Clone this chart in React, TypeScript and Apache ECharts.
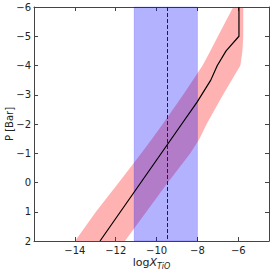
import React, { useEffect, useRef } from "react";
import * as echarts from "echarts";

// Pressure levels (log P [Bar]) for the retrieved band
const bandP = [2, 1, 0, -1, -1.5, -2, -3, -4, -4.5, -5, -6];
const bandLow = [-13.99, -12.97, -11.85, -10.75, -10.22, -9.7, -8.7, -7.75, -7.37, -7.0, -6.25];
const bandHigh = [-11.55, -10.5, -9.45, -8.35, -7.9, -7.55, -6.75, -5.9, -5.8, -5.76, -5.76];

// Median profile
const profileP = [2, 1, 0, -1, -2, -2.75, -3.5, -4, -4.5, -5, -6];
const profileX = [-12.77, -11.77, -10.77, -9.77, -8.77, -8.02, -7.35, -7.03, -6.6, -5.97, -5.97];

// Reference (input) abundance and its range
const trueValue = -9.5;
const trueRange = [-11.1, -8.0];

const xTicks = [-16, -14, -12, -10, -8, -6];
const yTicks = [-6, -5, -4, -3, -2, -1, 0, 1, 2];

const FONT = "DejaVu Sans";
const fmt = (v: number) => String(v).replace("-", "\u2212");

export default function App() {
  const ref = useRef<HTMLDivElement>(null);
  useEffect(() => {
    if (!ref.current) return;
    const chart = echarts.init(ref.current, null, { renderer: "svg" });
    const axisLineStyle = { color: "#444", width: 1 };
    const option: any = {
      animation: false,
      grid: { left: 34, top: 7, right: 4, bottom: 30, containLabel: false, outerBoundsMode: "none" },
      xAxis: [
        {
          type: "value",
          min: -16,
          max: -4.5,
          interval: 2,
          position: "bottom",
          axisLine: { show: true, onZero: false, lineStyle: axisLineStyle },
          axisTick: { show: true, inside: true, length: 4, lineStyle: axisLineStyle },
          splitLine: { show: false },
          axisLabel: {
            fontFamily: FONT,
            fontSize: 10,
            color: "#222",
            margin: 4,
            formatter: (v: number) => (v === xTicks[0] || v > -5 ? "" : fmt(v)),
          },
          name: "{a|log}{b|X}{c|TiO}",
          nameLocation: "middle",
          nameGap: 16,
          nameMoveOverlap: false,
          nameTextStyle: {
            verticalAlign: "top",
            rich: {
              a: { fontFamily: FONT, fontSize: 11, color: "#222", verticalAlign: "top", lineHeight: 13 },
              b: { fontFamily: FONT, fontSize: 11, fontStyle: "italic", color: "#222", verticalAlign: "top", lineHeight: 13 },
              c: { fontFamily: FONT, fontSize: 8, fontStyle: "italic", color: "#222", verticalAlign: "top", lineHeight: 13, padding: [5, 0, 0, 0] },
            },
          },
        },
        {
          type: "value",
          min: -16,
          max: -4.5,
          interval: 2,
          position: "top",
          axisLine: { show: true, onZero: false, lineStyle: axisLineStyle },
          axisTick: { show: true, inside: true, length: 4, lineStyle: axisLineStyle },
          splitLine: { show: false },
          axisLabel: { show: false },
        },
      ],
      yAxis: [
        {
          type: "value",
          min: -6,
          max: 2,
          interval: 1,
          inverse: true,
          position: "left",
          axisLine: { show: true, onZero: false, lineStyle: axisLineStyle },
          axisTick: { show: true, inside: true, length: 4, lineStyle: axisLineStyle },
          splitLine: { show: false },
          axisLabel: {
            fontFamily: FONT,
            fontSize: 10,
            color: "#222",
            margin: 3,
            formatter: (v: number) => fmt(v),
          },
          name: "P [Bar]",
          nameLocation: "middle",
          nameRotate: 90,
          nameGap: 20,
          nameMoveOverlap: false,
          nameTextStyle: { fontFamily: FONT, fontSize: 10, color: "#222" },
        },
        {
          type: "value",
          min: -6,
          max: 2,
          interval: 1,
          inverse: true,
          position: "right",
          axisLine: { show: true, onZero: false, lineStyle: axisLineStyle },
          axisTick: { show: true, inside: true, length: 4, lineStyle: axisLineStyle },
          splitLine: { show: false },
          axisLabel: { show: false },
        },
      ],
      series: [
        {
          type: "custom",
          name: "band",
          z: 1,
          silent: true,
          data: [[bandLow[0], bandP[0]]],
          renderItem: (params: any, api: any) => {
            const pts: number[][] = [];
            for (let i = 0; i < bandP.length; i++) pts.push(api.coord([bandLow[i], bandP[i]]));
            for (let i = bandP.length - 1; i >= 0; i--) pts.push(api.coord([bandHigh[i], bandP[i]]));
            return {
              type: "polygon",
              shape: { points: pts },
              style: { fill: "rgba(255,0,0,0.3)", stroke: "none" },
            };
          },
        },
        {
          type: "custom",
          name: "range",
          z: 2,
          silent: true,
          data: [[trueRange[0], -6]],
          renderItem: (params: any, api: any) => {
            const p0 = api.coord([trueRange[0], -6]);
            const p1 = api.coord([trueRange[1], 2]);
            return {
              type: "rect",
              shape: { x: p0[0], y: p0[1], width: p1[0] - p0[0], height: p1[1] - p0[1] },
              style: { fill: "rgba(0,0,255,0.3)", stroke: "rgba(0,0,255,0.15)", lineWidth: 1 },
            };
          },
        },
        {
          type: "line",
          name: "profile",
          z: 3,
          data: profileX.map((x, i) => [x, profileP[i]]),
          showSymbol: false,
          symbol: "none",
          lineStyle: { color: "#000", width: 1.2 },
          markLine: {
            silent: true,
            symbol: "none",
            label: { show: false },
            lineStyle: { color: "#222", width: 1, type: [4, 2] },
            data: [{ xAxis: trueValue }],
          },
        },
      ],
    };
    chart.setOption(option);
    return () => chart.dispose();
  }, []);
  return (
    <div
      ref={ref}
      style={{ position: "fixed", left: 0, top: 0, width: 273, height: 271, background: "#fff" }}
    />
  );
}
